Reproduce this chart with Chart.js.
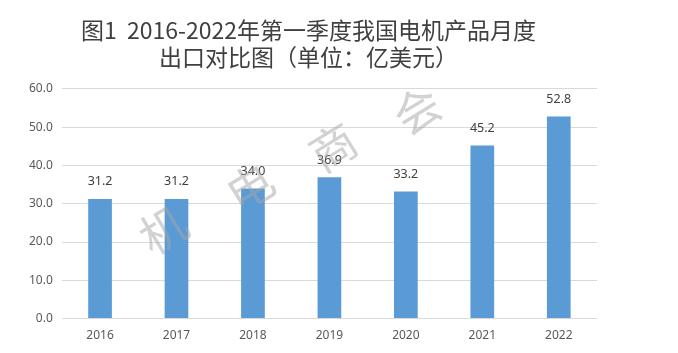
<!DOCTYPE html>
<html>
<head>
<meta charset="utf-8">
<script src="https://cdn.jsdelivr.net/npm/chart.js@4/dist/chart.umd.min.js"></script>
<style>
  html, body { margin: 0; padding: 0; background: #fff; }
  #wrap { width: 678px; height: 353px; }
</style>
</head>
<body>
<div id="wrap"><canvas id="c"></canvas></div>
<script>
const years = ["2016", "2017", "2018", "2019", "2020", "2021", "2022"];
const exportValues = [31.2, 31.2, 34.0, 36.9, 33.2, 45.2, 52.8];
const yTicks = [0, 10, 20, 30, 40, 50, 60];
const titleLines = ["图1  2016-2022年第一季度我国电机产品月度", "出口对比图（单位：亿美元）"];
const watermark = ["机", "电", "商", "会"];

// value labels above each bar
const barLabels = {
  id: "barLabels",
  afterDatasetsDraw(chart) {
    const ctx = chart.ctx;
    const meta = chart.getDatasetMeta(0);
    ctx.save();
    ctx.font = "12.5px 'Noto Sans', sans-serif";
    ctx.fillStyle = "#404040";
    ctx.textAlign = "center";
    ctx.textBaseline = "bottom";
    meta.data.forEach((bar, i) => {
      ctx.fillText(exportValues[i].toFixed(1), bar.x, bar.y - 11);
    });
    ctx.restore();
  }
};

// faint diagonal watermark
const stamp = {
  id: "stamp",
  afterDraw(chart) {
    const ctx = chart.ctx;
    ctx.save();
    ctx.font = "46px 'Noto Sans CJK SC', sans-serif";
    ctx.fillStyle = "rgba(165,165,165,0.5)";
    ctx.textAlign = "center";
    ctx.textBaseline = "middle";
    const spots = [[163, 230], [250, 187], [333, 147], [417, 110]];
    watermark.forEach((ch, i) => {
      ctx.save();
      ctx.translate(spots[i][0], spots[i][1]);
      ctx.rotate(-0.55);
      ctx.fillText(ch, 0, 0);
      ctx.restore();
    });
    ctx.restore();
  }
};

new Chart(document.getElementById("c"), {
  type: "bar",
  data: {
    labels: years,
    datasets: [{
      data: exportValues,
      backgroundColor: "#5b9bd5",
      categoryPercentage: 1.0,
      barPercentage: 0.31
    }]
  },
  options: {
    responsive: true,
    maintainAspectRatio: false,
    animation: false,
    layout: { padding: { left: 20, right: 81, top: 0, bottom: 0 } },
    plugins: {
      legend: { display: false },
      tooltip: { enabled: false },
      title: {
        display: true,
        text: titleLines,
        color: "#404040",
        font: { family: "'Noto Sans CJK SC', sans-serif", size: 23, weight: "normal", lineHeight: 1.17 },
        padding: { top: 17, bottom: 18 }
      }
    },
    scales: {
      x: {
        grid: { display: false, drawTicks: false },
        border: { display: false },
        ticks: { color: "#595959", font: { family: "'Noto Sans', sans-serif", size: 12 }, padding: 10 }
      },
      y: {
        min: 0,
        max: 60,
        afterBuildTicks(axis) { axis.ticks = yTicks.map(v => ({ value: v })); },
        grid: { color: "#d9d9d9", drawTicks: false },
        border: { display: false },
        ticks: {
          color: "#595959",
          font: { family: "'Noto Sans', sans-serif", size: 12 },
          padding: 9,
          callback: v => Number(v).toFixed(1)
        }
      }
    }
  },
  plugins: [barLabels, stamp]
});
</script>
</body>
</html>
